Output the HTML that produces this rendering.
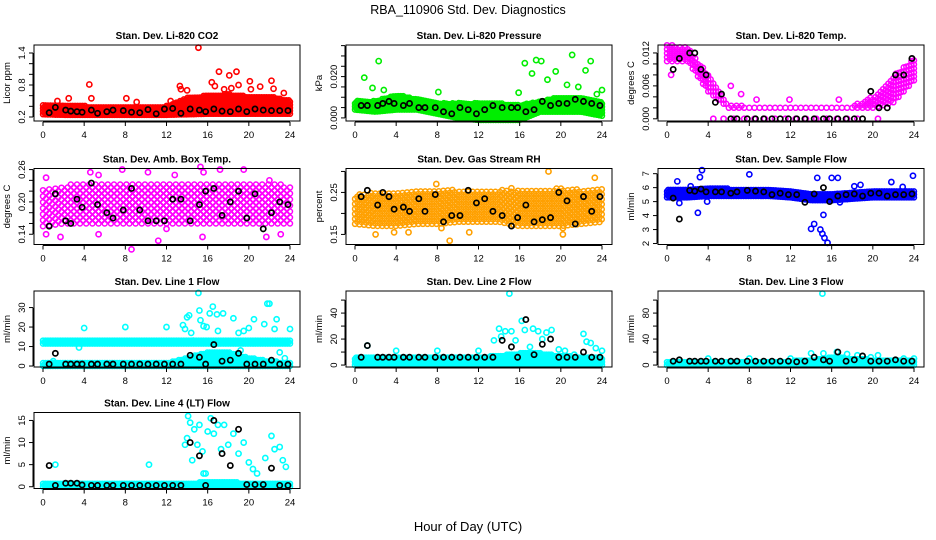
<!DOCTYPE html>
<html><head><meta charset="utf-8"><style>
body{margin:0;background:#fff}
svg{display:block;font-family:"Liberation Sans",sans-serif}
</style></head><body>
<svg id="chart" width="936" height="540" viewBox="0 0 936 540">
<text x="468" y="14" text-anchor="middle" font-size="12.5">RBA_110906  Std. Dev. Diagnostics</text>
<text x="468" y="531" text-anchor="middle" font-size="13">Hour of Day (UTC)</text>
</svg>
<script>
const bandHours=[0,2,4,6,8,10,12,14,16,18,20,22,24];
const blkHours=[0.6,1.2,2.2,2.7,3.3,3.8,4.7,5.3,6.2,6.8,7.8,8.6,9.4,10.2,11,11.8,12.6,13.4,14.3,15.2,15.8,16.6,17.4,18.2,19.0,19.8,20.6,21.4,22.2,23.0,23.8];
const xTicks=[0,4,8,12,16,20,24];

const p1Lo=[0.25,0.24,0.24,0.24,0.24,0.24,0.24,0.25,0.26,0.26,0.26,0.26,0.26];
const p1Hi=[0.42,0.40,0.40,0.39,0.38,0.38,0.40,0.55,0.60,0.62,0.58,0.58,0.50];
const p1OutX=[1.4,2.5,4.5,4.7,8.1,9.1,12.4,13.3,13.4,14,15.1,15.8,16.4,16.7,17.1,17.6,18.1,18.3,18.8,19,20.1,20.2,21.1,22.2,22.4,23.4];
const p1OutY=[0.5,0.55,0.81,0.55,0.55,0.48,0.5,0.78,0.72,0.70,1.50,0.55,0.85,0.78,1.05,0.72,0.98,0.74,1.05,0.80,0.87,0.72,0.77,0.88,0.73,0.65];
const p1Blk=[0.28,0.38,0.33,0.31,0.30,0.29,0.33,0.27,0.30,0.33,0.32,0.29,0.28,0.34,0.26,0.35,0.36,0.27,0.35,0.33,0.30,0.35,0.31,0.30,0.35,0.30,0.35,0.33,0.32,0.32,0.32];

const p2Lo=[0.004,0.003,0.004,0.004,0.002,0.0,-0.001,-0.001,-0.001,0.003,0.003,0.003,0.001];
const p2Hi=[0.008,0.008,0.011,0.009,0.007,0.007,0.007,0.007,0.006,0.008,0.010,0.010,0.008];
const p2OutX=[0.9,1.7,2.3,2.8,3.3,8.1,15.9,16.5,17.2,17.6,18.1,18.7,19.5,20.6,21.1,21.7,22.4,22.9,23.5,24.0];
const p2OutY=[0.0195,0.0145,0.0275,0.0135,0.0095,0.0125,0.0122,0.0265,0.0215,0.0280,0.0275,0.0185,0.0225,0.0160,0.0305,0.0150,0.0230,0.0275,0.0115,0.0135];
const p2Blk=[0.006,0.006,0.006,0.007,0.008,0.007,0.006,0.007,0.005,0.005,0.005,0.003,0.002,0.005,0.004,0.002,0.004,0.006,0.005,0.005,0.005,0.003,0.004,0.008,0.006,0.007,0.007,0.009,0.008,0.007,0.006];

const p3Lo=[0.0105,0.0105,0.005,0.002,0.002,0.002,0.002,0.002,0.002,0.002,0.002,0.003,0.007];
const p3Hi=[0.0135,0.0130,0.008,0.0024,0.0022,0.0022,0.0022,0.0022,0.0022,0.0022,0.004,0.008,0.011];
const p3OutX=[4.5,5.5,6.5,7.5,8.5,9.5,10.5,11.5,12.5,13.5,14.5,15.5,16.5,17.5,18.5,20.5,6.2,7.2,8.7,11.9,16.7,0.4];
const p3OutY=[0,0,0,0,0,0,0,0,0,0,0,0,0,0,0,0,0.006,0.0045,0.0035,0.0035,0.0035,0.008];
const p3Blk=[0.009,0.011,0.012,0.012,0.009,0.008,0.003,0.0045,0,0,0,0,0,0,0,0,0,0,0,0,0,0,0,0,0,0.005,0.002,0.002,0.008,0.008,0.011];

const p4Lo=[0.155,0.16,0.16,0.16,0.16,0.16,0.16,0.16,0.16,0.16,0.16,0.16,0.16];
const p4Hi=[0.225,0.23,0.235,0.235,0.235,0.235,0.235,0.235,0.235,0.235,0.235,0.235,0.23];
const p4OutX=[0.3,0.3,1.7,4.6,5.4,5.4,7.7,8.6,10.2,11.2,12.0,15.3,15.6,15.5,17.2,19.5,22.0,23.1,21.7,12.8];
const p4OutY=[0.245,0.14,0.135,0.255,0.25,0.14,0.26,0.112,0.255,0.128,0.15,0.265,0.255,0.135,0.26,0.26,0.24,0.14,0.135,0.25];
const p4Blk=[0.155,0.215,0.165,0.16,0.205,0.19,0.235,0.195,0.18,0.17,0.185,0.225,0.185,0.165,0.165,0.165,0.205,0.205,0.165,0.195,0.22,0.225,0.175,0.20,0.22,0.17,0.215,0.15,0.18,0.20,0.195];

const p5Lo=[0.175,0.17,0.17,0.175,0.175,0.18,0.18,0.18,0.17,0.17,0.17,0.175,0.18];
const p5Hi=[0.245,0.25,0.25,0.255,0.255,0.255,0.255,0.255,0.255,0.255,0.26,0.255,0.26];
const p5OutX=[2,3.8,5.2,8.4,9.2,11.1,18.8,20.2,23.3,15.2,7.9,20.2];
const p5OutY=[0.15,0.155,0.155,0.165,0.135,0.155,0.3,0.15,0.285,0.26,0.27,0.165];
const p5Blk=[0.24,0.255,0.22,0.25,0.24,0.21,0.215,0.205,0.235,0.205,0.245,0.18,0.195,0.195,0.255,0.225,0.235,0.205,0.195,0.17,0.19,0.22,0.18,0.185,0.19,0.25,0.23,0.175,0.24,0.205,0.24];

const p6Lo=[5.3,5.3,5.4,5.4,5.4,5.4,5.3,5.1,5.1,5.2,5.3,5.3,5.3];
const p6Hi=[5.8,5.9,6.0,5.9,5.8,5.8,5.7,5.6,5.6,5.7,5.8,5.8,5.8];
const p6OutX=[1.0,1.2,2.3,3.0,3.2,3.4,3.9,8.0,14.0,14.3,14.9,15.1,15.3,15.6,15.2,14.6,16.0,16.6,16.8,18.2,18.8,21.8,22.9,23.9];
const p6OutY=[6.45,4.9,6.1,4.2,6.75,7.25,5.0,6.95,3.05,3.4,3.0,2.7,2.4,2.05,4.05,6.7,6.7,6.7,4.95,6.1,6.2,6.4,6.05,6.85];
const p6Blk=[5.25,3.75,5.8,5.75,5.9,5.7,5.7,5.7,5.6,5.7,5.8,5.75,5.7,5.5,5.6,5.5,5.5,4.95,5.55,6.0,5.0,5.4,5.5,5.55,5.4,5.6,5.6,5.4,5.5,5.5,5.55];

const p7Lo=[11.5,11.5,11.5,11.5,11.5,11.5,11.5,11.5,11.5,11.5,11.5,11.5,11.5];
const p7Hi=[13,13,13,13,13,13,13,13,13,13,13,13,13];
const p7Lo2=[0,0,0,0,0,0,0,0,0,0,0,0,0];
const p7Hi2=[1.5,1.5,1.5,1.5,1.5,1.5,1.5,4,7,7,4,2.5,1.5];
const p7OutX=[1,4,3.5,8,12,13.6,13.8,14,14.2,14.4,14.6,15.1,15.2,15.3,15.6,15.9,16.2,16.5,16.9,17,17.5,18.5,19,19.2,19.5,20,20.5,21.5,21.8,22,22.5,22.7,23,23.5,24];
const p7OutY=[2.5,19.5,9.5,20,20,21,19,25,26,17,13,37.5,28.5,23.5,20.5,20,27,30.5,26.5,18,27,24.5,17,8,18,19.5,24,21.5,32,32,19,24,7,4,19];
const p7Blk=[1,6.5,1,1,1,1,1,1,1,1,1,1,1,1,1,1,1,1,5.5,4.5,1,11,2.5,3,6.5,1,1,1,3,1,1];

const p8Lo=[0,0,0,0,0,0,0,0,0,0,0,0,0];
const p8Hi=[6,6,6,6,6,6,6,7,9,9,7,6,6];
const p8OutX=[1.2,4,8,12,13.5,14,14.2,14.6,15,15.2,15.6,16.2,16.5,17,17.3,17.8,18.2,18.6,19.1,19.8,20.4,21.3,22.2,22.5,22.9,23.4,24];
const p8OutY=[15,11,11,11,19,28,22,26,55,26,19,34,27,14,28,26,20,25,27,12,11,8,24,18,17,13,11];
const p8Blk=[6,15,6,6,6,6,6,6,6,6,6,6,6,6,6,6,6,6,19,14,6,35,8,16,20,6,6,6,10,6,6];

const p9Lo=[0,0,0,0,0,0,0,0,0,0,0,0,0];
const p9Hi=[6,6,6,6,6,6,6,7,12,10,8,7,7];
const p9OutX=[4,8,12,14,15.1,15.2,16.5,17.5,18.5,19.8,20.5,23,24];
const p9OutY=[10,10,10,18,110,18,20,17,15,12,15,10,10];
const p9Blk=[6,8,6,6,6,6,6,6,6,6,6,6,6,6,6,6,5,6,12,8,6,20,6,8,14,6,6,6,8,6,6];

const p10Lo=[0,0,0,0,0,0,0,0,0,0,0,0,0];
const p10Hi=[0.6,0.6,0.6,0.6,0.6,0.6,0.6,0.8,1,1,0.8,0.6,0.6];
const p10OutX=[1.2,10.3,13.8,14,14.1,14.3,14.5,14.7,15,15.2,15.5,15.8,16,16.3,16.6,17,17.3,17.6,18,18.5,19,19.5,20,20.4,20.8,21.6,22.2,22.5,23,23.3,23.6,15.6];
const p10OutY=[5,5,9.5,11,16,14.5,6,13,9.5,14,8,3,12.5,15.5,12,14,8.5,14,9.5,12,7.5,10,5.5,4,3,6.5,11.5,8.5,9,6,4.5,3];
const p10Blk=[4.8,0.3,0.8,0.8,0.8,0.4,0.3,0.3,0.3,0.3,0.3,0.3,0.3,0.3,0.3,0.3,0.3,0.3,10,7,0.3,15,7.5,4.8,13,0.5,0.5,0.5,4.2,0.3,0.3];

const panels=[
 {id:'co2',title:'Stan. Dev. Li-820 CO2',ylab:'Licor ppm',col:0,row:0,dom:[0.125,1.55],ticks:[0.2,0.4,0.6,0.8,1.0,1.2,1.4],labs:[0.2,0.8,1.4],fmt:1,color:'#ff0000',sx:0.12,sy:3,bands:[[p1Lo,p1Hi]],ox:p1OutX,oy:p1OutY,blk:p1Blk},
 {id:'pressure',title:'Stan. Dev. Li-820 Pressure',ylab:'kPa',col:1,row:0,dom:[-0.0015,0.0353],ticks:[0,0.005,0.01,0.015,0.02,0.025,0.03,0.035],labs:[0,0.02],fmt:3,color:'#00ee00',sx:0.12,sy:3,bands:[[p2Lo,p2Hi]],ox:p2OutX,oy:p2OutY,blk:p2Blk},
 {id:'temp',title:'Stan. Dev. Li-820 Temp.',ylab:'degrees C',col:2,row:0,dom:[-0.0004,0.01345],ticks:[0,0.002,0.004,0.006,0.008,0.010,0.012],labs:[0,0.006,0.012],fmt:3,color:'#ff00ff',sx:0.25,sy:4,bands:[[p3Lo,p3Hi]],ox:p3OutX,oy:p3OutY,blk:p3Blk},
 {id:'ambbox',title:'Stan. Dev. Amb. Box Temp.',ylab:'degrees C',col:0,row:1,dom:[0.121,0.262],ticks:[0.14,0.16,0.18,0.20,0.22,0.24,0.26],labs:[0.14,0.20,0.26],fmt:2,color:'#ff00ff',sx:0.3,sy:6,bands:[[p4Lo,p4Hi]],ox:p4OutX,oy:p4OutY,blk:p4Blk},
 {id:'rh',title:'Stan. Dev. Gas Stream RH',ylab:'percent',col:1,row:1,dom:[0.126,0.307],ticks:[0.15,0.20,0.25,0.30],labs:[0.15,0.25],fmt:2,color:'#ffa000',sx:0.22,sy:5,bands:[[p5Lo,p5Hi]],ox:p5OutX,oy:p5OutY,blk:p5Blk},
 {id:'sampleflow',title:'Stan. Dev. Sample Flow',ylab:'ml/min',col:2,row:1,dom:[1.93,7.37],ticks:[2,3,4,5,6,7],labs:[2,3,4,5,6,7],fmt:0,color:'#0000ff',sx:0.12,sy:3,bands:[[p6Lo,p6Hi]],ox:p6OutX,oy:p6OutY,blk:p6Blk},
 {id:'line1',title:'Stan. Dev. Line 1 Flow',ylab:'ml/min',col:0,row:2,dom:[-0.5,38.5],ticks:[0,10,20,30],labs:[0,10,20,30],fmt:0,color:'#00ffff',sx:0.12,sy:3,bands:[[p7Lo,p7Hi],[p7Lo2,p7Hi2]],ox:p7OutX,oy:p7OutY,blk:p7Blk},
 {id:'line2',title:'Stan. Dev. Line 2 Flow',ylab:'ml/min',col:1,row:2,dom:[-1.5,57],ticks:[0,10,20,30,40,50],labs:[0,20,40],fmt:0,color:'#00ffff',sx:0.12,sy:3,bands:[[p8Lo,p8Hi]],ox:p8OutX,oy:p8OutY,blk:p8Blk},
 {id:'line3',title:'Stan. Dev. Line 3 Flow',ylab:'ml/min',col:2,row:2,dom:[-3,114],ticks:[0,20,40,60,80,100],labs:[0,40,80],fmt:0,color:'#00ffff',sx:0.12,sy:3,bands:[[p9Lo,p9Hi]],ox:p9OutX,oy:p9OutY,blk:p9Blk},
 {id:'line4',title:'Stan. Dev. Line 4 (LT) Flow',ylab:'ml/min',col:0,row:3,dom:[-0.4,16.8],ticks:[0,5,10,15],labs:[0,5,10,15],fmt:0,color:'#00ffff',sx:0.12,sy:3,bands:[[p10Lo,p10Hi]],ox:p10OutX,oy:p10OutY,blk:p10Blk}
];

const NS='http://www.w3.org/2000/svg';
const svg=document.getElementById('chart');
const tops=[45,168.5,291,412.5];
const W=266,H=76;
function mk(tag,attrs,parent){const e=document.createElementNS(NS,tag);for(const k in attrs)e.setAttribute(k,attrs[k]);parent.appendChild(e);return e;}
function interp(arr,h){const i=Math.min(Math.floor(h/2),bandHours.length-2);const f=(h-bandHours[i])/2;return arr[i]+(arr[i+1]-arr[i])*f;}

panels.forEach(p=>{
  const left=34+p.col*312, top=tops[p.row];
  const g=mk('g',{},svg);
  
  
  const xs=h=>left+9+h*247/24;
  const ys=v=>top+H-(v-p.dom[0])/(p.dom[1]-p.dom[0])*H;
  const plot=mk('g',{},g);
  
  
  p.bands.forEach(b=>{
    const lo=b[0],hi=b[1];
    const bg=mk('g',{fill:'none',stroke:p.color,'stroke-width':1.5},plot);
    
    
    let k=0;
    for(let h=0;h<=24.001;h+=p.sx){
      const yHi=ys(interp(hi,h)), yLo=ys(interp(lo,h));
      const off=(k%2)*p.sy/2; k++;
      for(let y=yLo-off;y>=yHi-0.5;y-=p.sy){
        mk('circle',{cx:xs(h).toFixed(1),cy:y.toFixed(1),r:2.5},bg);
      }
    }
  });
  p.ox.forEach((x,i)=>{
    const c=mk('circle',{cx:xs(x),cy:ys(p.oy[i]),r:2.6,fill:'none',stroke:p.color,'stroke-width':1.6},plot);
    
    
  });
  blkHours.forEach((x,i)=>{
    const c=mk('circle',{cx:xs(x),cy:ys(p.blk[i]),r:2.6,fill:'none',stroke:'#000','stroke-width':1.7},plot);
    
    
  });
  const box=mk('rect',{x:left,y:top,width:W,height:H,fill:'none',stroke:'#000','stroke-width':1},g);
  
  
  const xa=mk('g',{},g);
  
  
  mk('line',{x1:xs(0),x2:xs(24),y1:top+H+1,y2:top+H+1,stroke:'#000'},xa);
  xTicks.forEach(t=>{
    mk('line',{x1:xs(t),x2:xs(t),y1:top+H+1,y2:top+H+5,stroke:'#000'},xa);
    const tx=mk('text',{x:xs(t),y:top+H+17,'text-anchor':'middle','font-size':9.5},xa);
    tx.textContent=t;
    
    
  });
  const ya=mk('g',{},g);
  
  
  const t0=p.ticks[0],t1=p.ticks[p.ticks.length-1];
  mk('line',{x1:left-1,x2:left-1,y1:ys(t0),y2:ys(t1),stroke:'#000'},ya);
  p.ticks.forEach(t=>{
    mk('line',{x1:left-5,x2:left-1,y1:ys(t),y2:ys(t),stroke:'#000'},ya);
  });
  p.labs.forEach(t=>{
    const x=left-9,y=ys(t);
    const tx=mk('text',{x:x,y:y,'text-anchor':'middle','font-size':9.5,transform:'rotate(-90 '+x+' '+y+')'},ya);
    tx.textContent=t.toFixed(p.fmt);
    
    
  });
  const yl=mk('text',{x:left-24,y:top+H/2,'text-anchor':'middle','font-size':9.5,transform:'rotate(-90 '+(left-24)+' '+(top+H/2)+')'},g);
  yl.textContent=p.ylab;
  
  
  const tt=mk('text',{x:left+W/2,y:top-6,'text-anchor':'middle','font-size':10,'font-weight':'bold'},g);
  tt.textContent=p.title;
  
  
});
</script>
</body></html>
